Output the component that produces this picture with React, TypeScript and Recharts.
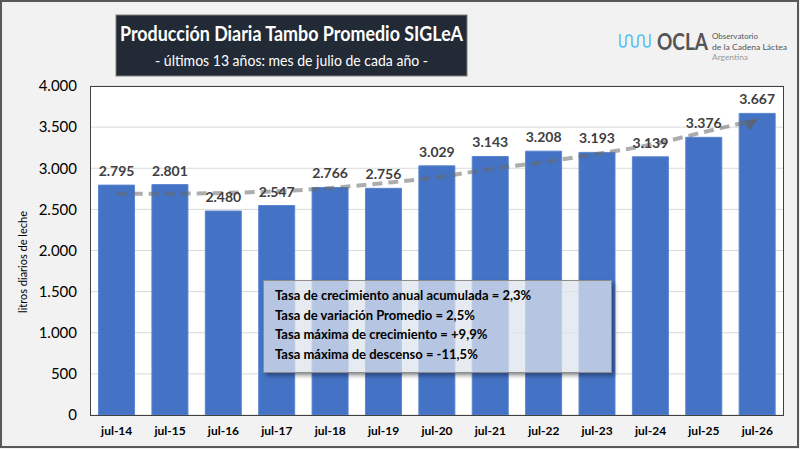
import React from 'react';
import {
  ComposedChart,
  Bar,
  Line,
  XAxis,
  YAxis,
  CartesianGrid,
  LabelList
} from 'recharts';

// categorías y valores (litros diarios por tambo, julio de cada año)
const months = ['jul-14', 'jul-15', 'jul-16', 'jul-17', 'jul-18', 'jul-19', 'jul-20', 'jul-21', 'jul-22', 'jul-23', 'jul-24', 'jul-25', 'jul-26'];
const litros = [2795, 2801, 2480, 2547, 2766, 2756, 3029, 3143, 3208, 3193, 3139, 3376, 3667];
// línea de tendencia
const tendencia = [2690, 2690, 2700, 2720, 2760, 2820, 2890, 2990, 3075, 3175, 3285, 3440, 3590];
const yTicks = [0, 500, 1000, 1500, 2000, 2500, 3000, 3500, 4000];

const notas = [
  'Tasa de crecimiento anual acumulada = 2,3%',
  'Tasa de variación Promedio = 2,5%',
  'Tasa máxima de crecimiento = +9,9%',
  'Tasa máxima de descenso = -11,5%'
];

const data = months.map((m, i) => ({ mes: m, litros: litros[i], tendencia: tendencia[i] }));

const fmt = (v: number) => v.toLocaleString('de-DE');

const FONT = 'Lato, "Noto Sans", sans-serif';

// flecha al final de la tendencia
const ArrowDot = (props: any) => {
  const { cx, cy, index } = props;
  if (index !== data.length - 1) return <g key={index} />;
  return (
    <polygon
      key={index}
      points="0,0 -13,-2 -10,9"
      transform={`translate(${cx},${cy}) rotate(-12)`}
      fill="rgba(95,95,95,0.7)"
    />
  );
};

export default function App() {
  return (
    <div
      style={{
        position: 'absolute',
        left: 0,
        top: 0,
        width: 800,
        height: 449,
        background: '#f2f2f2',
        fontFamily: FONT,
        overflow: 'hidden'
      }}
    >
      <ComposedChart
        width={800}
        height={449}
        data={data}
        margin={{ top: 86, right: 16, bottom: 0, left: 0 }}
        barCategoryGap="16%"
      >
        <CartesianGrid vertical={false} stroke="#d9d9d9" fill="#ffffff" />
        <XAxis
          dataKey="mes"
          height={34}
          tickLine={false}
          axisLine={false}
          tickSize={0}
          tickMargin={11}
          interval={0}
          tick={{ fill: '#000', fontSize: 12, fontWeight: 700, fontFamily: FONT }}
        />
        <YAxis
          width={90}
          domain={[0, 4000]}
          ticks={yTicks}
          tickFormatter={fmt}
          tickLine={false}
          axisLine={false}
          tickSize={0}
          tickMargin={13}
          tick={{ fill: '#000', fontSize: 15, fontFamily: FONT }}
        />
        <Bar dataKey="litros" fill="#4472c4" stroke="#5b85d0" strokeWidth={1} isAnimationActive={false}>
          <LabelList
            dataKey="litros"
            position="top"
            offset={9}
            formatter={(v: any) => fmt(Number(v))}
            style={{ fill: '#404040', fontSize: 14, fontWeight: 700, fontFamily: FONT }}
          />
        </Bar>
        <Line
          type="monotone"
          dataKey="tendencia"
          stroke="rgba(105,105,105,0.55)"
          strokeWidth={4}
          strokeDasharray="10 6"
          dot={ArrowDot}
          activeDot={false}
          isAnimationActive={false}
        />
      </ComposedChart>

      {/* borde del área de trazado */}
      <div
        style={{
          position: 'absolute',
          left: 90,
          top: 86,
          width: 694,
          height: 330,
          boxSizing: 'border-box',
          border: '1px solid #404040',
          pointerEvents: 'none'
        }}
      />

      {/* título del eje Y */}
      <div
        style={{
          position: 'absolute',
          left: 22,
          top: 262,
          transform: 'translate(-50%, -50%) rotate(-90deg)',
          fontSize: 11,
          whiteSpace: 'nowrap',
          color: '#000'
        }}
      >
        litros diarios de leche
      </div>

      {/* recuadro con tasas */}
      <div
        style={{
          position: 'absolute',
          left: 263,
          top: 280,
          width: 349,
          height: 93,
          boxSizing: 'border-box',
          background: 'rgba(221,226,236,0.74)',
          border: '1px solid #8c8c8c',
          boxShadow: '3px 3px 4px rgba(0,0,0,0.35)',
          padding: '5px 0 0 11px',
          fontSize: 13,
          fontWeight: 700,
          lineHeight: '19.5px',
          color: '#000'
        }}
      >
        {notas.map((t) => (
          <div key={t} style={{ whiteSpace: 'nowrap' }}>{t}</div>
        ))}
      </div>

      {/* título y logo */}
      <svg width={800} height={449} style={{ position: 'absolute', left: 0, top: 0, pointerEvents: 'none' }}>
        <rect x={116} y={15} width={351} height={61} fill="#222a35" stroke="#7f7f7f" strokeWidth={1} />
        <text x={120} y={41} fill="#fff" fontSize={21} fontWeight={700} fontFamily={FONT} textLength={343} lengthAdjust="spacingAndGlyphs">
          Producción Diaria Tambo Promedio SIGLeA
        </text>
        <text x={155} y={66} fill="#fff" fontSize={16} fontFamily={FONT} textLength={273} lengthAdjust="spacingAndGlyphs">
          - últimos 13 años: mes de julio de cada año -
        </text>

        <path
          d="M620 34 V44 a3 3 0 0 0 6 0 V38 a3 3 0 0 1 6 0 V44 a3 3 0 0 0 6 0 V38 a3 3 0 0 1 6 0 V44 a3 3 0 0 0 6 0 V34"
          fill="none"
          stroke="#4fc3f7"
          strokeWidth={1.6}
        />
        <g transform="translate(657,50) scale(1,1.25)">
          <text x={0} y={0} fill="#555" fontSize={19} fontWeight={700} fontFamily={FONT} textLength={51} lengthAdjust="spacingAndGlyphs">
            OCLA
          </text>
        </g>
        <text x={712} y={39} fill="#555" fontSize={8} fontFamily={FONT} textLength={46} lengthAdjust="spacingAndGlyphs">
          Observatorio
        </text>
        <text x={712} y={49.5} fill="#555" fontSize={8} fontFamily={FONT} textLength={75} lengthAdjust="spacingAndGlyphs">
          de la Cadena Láctea
        </text>
        <text x={712} y={60} fill="#999" fontSize={8} fontFamily={FONT} textLength={36} lengthAdjust="spacingAndGlyphs">
          Argentina
        </text>

        <rect x={1} y={1} width={797} height={446} fill="none" stroke="#595959" strokeWidth={2} />
      </svg>
    </div>
  );
}
